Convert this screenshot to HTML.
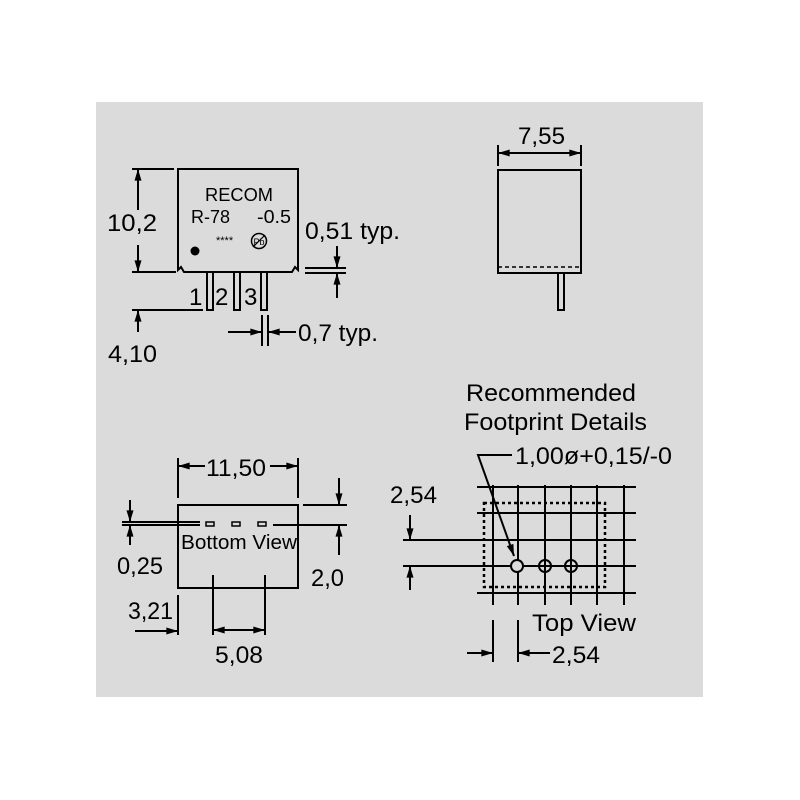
<!DOCTYPE html>
<html><head><style>html,body{margin:0;padding:0;background:#fff}svg{display:block}text{font-family:"Liberation Sans",sans-serif;fill:#000}</style></head><body>
<svg width="800" height="800" viewBox="0 0 800 800" xmlns="http://www.w3.org/2000/svg">
<defs>
<marker id="a" viewBox="0 0 10 6" refX="10" refY="3" markerWidth="14" markerHeight="7" markerUnits="userSpaceOnUse" orient="auto"><path d="M0,0L10,3L0,6z" fill="#000"/></marker>
</defs>
<rect x="96" y="102" width="607" height="595" fill="#dbdbdb"/>
<g stroke="#000" stroke-width="2" fill="none">
<path d="M178,169H298V270L295,267L292,272H184L181,267L178,270Z"/>
<rect x="207" y="272" width="6" height="38"/>
<rect x="234" y="272" width="6" height="38"/>
<rect x="261" y="272" width="6" height="38"/>
<path d="M132,169H174M132,272H176"/>
<path d="M138,210V169" marker-end="url(#a)"/><path d="M138,245V272" marker-end="url(#a)"/>
<path d="M132,310H203"/><path d="M138,332V310" marker-end="url(#a)"/>
<path d="M305,268H346M305,273H346"/>
<path d="M337,246V268" marker-end="url(#a)"/><path d="M337,298V273" marker-end="url(#a)"/>
<path d="M262,315V346M268,315V346"/>
<path d="M228,332H262" marker-end="url(#a)"/><path d="M296,332H268" marker-end="url(#a)"/>
<rect x="498" y="170" width="83" height="103"/>
<path d="M498,267H581" stroke-dasharray="4,3" stroke-width="1.5"/>
<rect x="558" y="273" width="6" height="37"/>
<path d="M498,145V166M581,145V166"/>
<path d="M540,153H498" marker-end="url(#a)"/><path d="M540,153H581" marker-end="url(#a)"/>
<rect x="178" y="505" width="120" height="83"/>
<path d="M178,458V498M298,458V498"/>
<path d="M205,466H178" marker-end="url(#a)"/><path d="M270,466H298" marker-end="url(#a)"/>
<path d="M122,522H200M122,525H200M273,525H347M303,505H347"/>
<rect x="206" y="522" width="8" height="4" stroke-width="1.5"/>
<rect x="232" y="522" width="8" height="4" stroke-width="1.5"/>
<rect x="258" y="522" width="8" height="4" stroke-width="1.5"/>
<path d="M130,500V522" marker-end="url(#a)"/><path d="M130,545V525" marker-end="url(#a)"/>
<path d="M339,478V505" marker-end="url(#a)"/><path d="M339,555V525" marker-end="url(#a)"/>
<path d="M213,575V635M265,575V635M178,595V635"/>
<path d="M239,630H213" marker-end="url(#a)"/><path d="M239,630H265" marker-end="url(#a)"/>
<path d="M135,631H178" marker-end="url(#a)"/>
<path d="M493,485V605M518,485V605M545,485V605M571,485V605M597,485V605M624,485V605"/>
<path d="M477,487H636M477,513H636M403,540H636M403,566H636M477,593H636"/>
<rect x="484" y="503" width="121" height="84" stroke-dasharray="3,3" stroke-width="2.5"/>
<circle cx="517" cy="566" r="6" fill="#dbdbdb"/><circle cx="545" cy="566" r="6"/><circle cx="571" cy="566" r="6"/>
<path d="M410,515V540" marker-end="url(#a)"/><path d="M410,590V566" marker-end="url(#a)"/>
<path d="M512,455H478L514,556" marker-end="url(#a)"/>
<path d="M493,620V662M518,620V662"/>
<path d="M467,653H493" marker-end="url(#a)"/><path d="M550,653H518" marker-end="url(#a)"/>
</g>
<circle cx="195" cy="251" r="4.5" fill="#000"/>
<circle cx="259" cy="241" r="7.5" fill="none" stroke="#000" stroke-width="1.5"/>
<text x="259" y="245" font-size="9" text-anchor="middle">Pb</text>
<line x1="253" y1="247" x2="265" y2="235" stroke="#000" stroke-width="1.2"/>
<g font-size="18">
<text x="205" y="201" textLength="68" lengthAdjust="spacingAndGlyphs">RECOM</text>
<text x="191" y="223" textLength="39" lengthAdjust="spacingAndGlyphs">R-78</text>
<text x="257" y="223" textLength="34" lengthAdjust="spacingAndGlyphs">-0.5</text>
</g>
<text x="216" y="244" font-size="11">****</text>
<g font-size="24">
<text x="107" y="231" textLength="50" lengthAdjust="spacingAndGlyphs">10,2</text>
<text x="108" y="362" textLength="49" lengthAdjust="spacingAndGlyphs">4,10</text>
<text x="305" y="239" textLength="95" lengthAdjust="spacingAndGlyphs">0,51 typ.</text>
<text x="298" y="341" textLength="80" lengthAdjust="spacingAndGlyphs">0,7 typ.</text>
<text x="189" y="305">1</text><text x="215" y="305">2</text><text x="244" y="305">3</text>
<text x="518" y="144" textLength="47" lengthAdjust="spacingAndGlyphs">7,55</text>
<text x="206" y="476" textLength="60" lengthAdjust="spacingAndGlyphs">11,50</text>
<text x="117" y="574" textLength="46" lengthAdjust="spacingAndGlyphs">0,25</text>
<text x="311" y="586" textLength="33" lengthAdjust="spacingAndGlyphs">2,0</text>
<text x="128" y="619" textLength="45" lengthAdjust="spacingAndGlyphs">3,21</text>
<text x="215" y="663" textLength="48" lengthAdjust="spacingAndGlyphs">5,08</text>
<text x="466" y="401" textLength="170" lengthAdjust="spacingAndGlyphs">Recommended</text>
<text x="464" y="430" textLength="183" lengthAdjust="spacingAndGlyphs">Footprint Details</text>
<text x="515" y="464" textLength="157" lengthAdjust="spacingAndGlyphs">1,00ø+0,15/-0</text>
<text x="390" y="503" textLength="47" lengthAdjust="spacingAndGlyphs">2,54</text>
<text x="532" y="631" textLength="104" lengthAdjust="spacingAndGlyphs">Top View</text>
<text x="552" y="663" textLength="48" lengthAdjust="spacingAndGlyphs">2,54</text>
</g>
<text x="181" y="549" font-size="20" textLength="116" lengthAdjust="spacingAndGlyphs">Bottom View</text>
</svg>
</body></html>
